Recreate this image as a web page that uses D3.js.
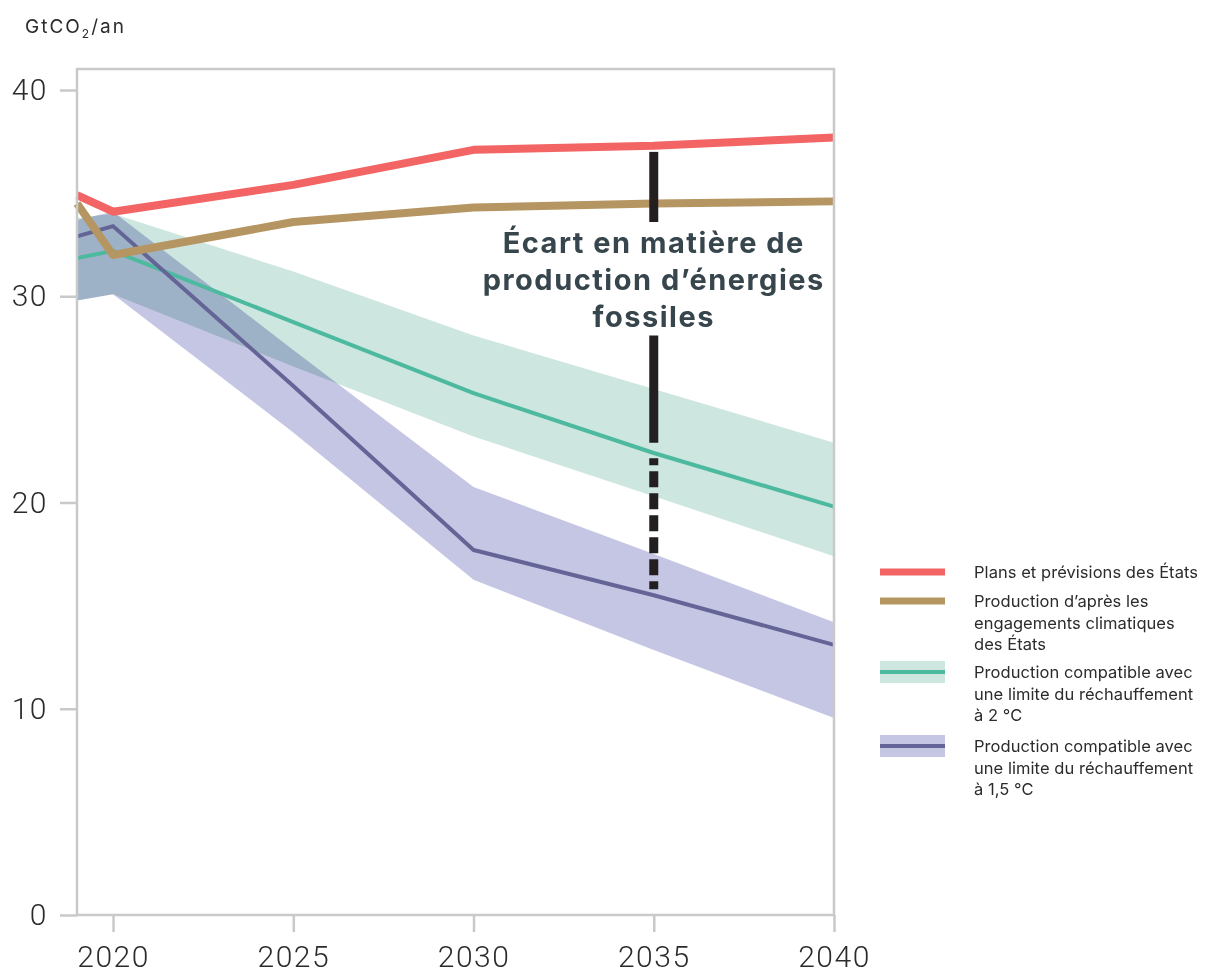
<!DOCTYPE html>
<html>
<head>
<meta charset="utf-8">
<script src="https://cdn.jsdelivr.net/npm/d3@7"></script>
<style>
  body { margin: 0; background: #fff; }
  .tick text { font-family: Roboto, sans-serif; font-weight: 300; fill: #2b2b2b; letter-spacing: 1.5px; }
  .band { mix-blend-mode: multiply; }
</style>
</head>
<body>
<div id="chart-container"></div>
<script>
const years = [2019, 2020, 2025, 2030, 2035, 2040];
const plans = [34.9, 34.1, 35.4, 37.1, 37.3, 37.7];
const pledges = [34.5, 32.0, 33.6, 34.3, 34.5, 34.6];
const deg2 = [31.85, 32.2, 28.75, 25.3, 22.4, 19.8];
const deg2Low = [29.8, 30.1, 26.6, 23.2, 20.3, 17.4];
const deg2High = [33.8, 34.0, 31.2, 28.1, 25.5, 22.9];
const deg15 = [32.9, 33.4, 25.65, 17.7, 15.5, 13.1];
const deg15Low = [29.8, 30.1, 23.4, 16.25, 12.85, 9.55];
const deg15High = [33.7, 34.1, 27.4, 20.75, 17.5, 14.2];
const yTicks = [0, 10, 20, 30, 40];
const xTicks = [2020, 2025, 2030, 2035, 2040];
const gapYear = 2035;
const gapSolid = [[37.0, 33.6], [28.1, 22.9]];
const gapDashed = [22.15, 15.8];
const gapLabel = ["Écart en matière de", "production d’énergies", "fossiles"];
const legendLabels = [
    ["Plans et prévisions des États"],
    ["Production d’après les", "engagements climatiques", "des États"],
    ["Production compatible avec", "une limite du réchauffement", "à 2 °C"],
    ["Production compatible avec", "une limite du réchauffement", "à 1,5 °C"]
];

const colors = {
    plans: "#f26564", pledges: "#b59662",
    deg2: "#4dba9f", deg2Band: "#cde6df",
    deg15: "#646496", deg15Band: "#c5c6e4",
    frame: "#c9c9c9", gap: "#231f20", gapText: "#37454d"
};

const svgWidth = 1210,
    svgHeight = 974,
    margin = { top: 69, right: 376, bottom: 59, left: 77 },
    width = svgWidth - margin.left - margin.right,
    height = svgHeight - margin.top - margin.bottom;

const root = d3.select("#chart-container").append("svg")
    .attr("width", svgWidth)
    .attr("height", svgHeight);

// unit label
const unit = root.append("text")
    .attr("x", 25).attr("y", 33)
    .style("font-family", "Inter, sans-serif")
    .style("font-size", "19px")
    .style("letter-spacing", "2px")
    .style("fill", "#2b2b2b");
unit.append("tspan").text("GtCO");
unit.append("tspan").text("2").style("font-size", "12px").attr("dy", 5);
unit.append("tspan").text("/an").attr("dy", -5);

const svg = root.append("g")
    .attr("transform", `translate(${margin.left},${margin.top})`);

const x = d3.scaleLinear().domain([2019, 2040]).range([0, width]);
const y = d3.scaleLinear().domain([0, 40]).range([height, 21]);

const rows = years.map((yr, i) => ({
    year: yr, plans: plans[i], pledges: pledges[i],
    deg2: deg2[i], deg2Low: deg2Low[i], deg2High: deg2High[i],
    deg15: deg15[i], deg15Low: deg15Low[i], deg15High: deg15High[i]
}));

// bands
const band = (lo, hi) => d3.area()
    .x(d => x(d.year)).y0(d => y(d[lo])).y1(d => y(d[hi]));
svg.append("path").datum(rows).attr("class", "band")
    .attr("fill", colors.deg2Band).attr("d", band("deg2Low", "deg2High"));
svg.append("path").datum(rows).attr("class", "band")
    .attr("fill", colors.deg15Band).attr("d", band("deg15Low", "deg15High"));

// lines
const line = key => d3.line().x(d => x(d.year)).y(d => y(d[key]));
[["deg2", 4], ["deg15", 4], ["plans", 8], ["pledges", 8]].forEach(([k, w]) => {
    svg.append("path").datum(rows)
        .attr("fill", "none")
        .attr("stroke", colors[k])
        .attr("stroke-width", w)
        .attr("stroke-linejoin", "round")
        .attr("d", line(k));
});

// gap marker
gapSolid.forEach(s => {
    svg.append("line")
        .attr("x1", x(gapYear)).attr("x2", x(gapYear))
        .attr("y1", y(s[0])).attr("y2", y(s[1]))
        .attr("stroke", colors.gap).attr("stroke-width", 9);
});
svg.append("line")
    .attr("x1", x(gapYear)).attr("x2", x(gapYear))
    .attr("y1", y(gapDashed[0])).attr("y2", y(gapDashed[1]))
    .attr("stroke", colors.gap).attr("stroke-width", 9)
    .attr("stroke-dasharray", "16,6")
    .attr("stroke-dashoffset", 9);

svg.append("text")
    .attr("x", x(gapYear)).attr("y", 184)
    .attr("text-anchor", "middle")
    .style("font-family", "Inter, sans-serif")
    .style("font-weight", 700)
    .style("font-size", "29px")
    .style("letter-spacing", "1.5px")
    .style("fill", colors.gapText)
    .selectAll("tspan").data(gapLabel).join("tspan")
    .attr("x", x(gapYear))
    .attr("dy", (d, i) => i ? 37 : 0)
    .text(d => d);

// frame
svg.append("rect")
    .attr("x", 0).attr("y", 0)
    .attr("width", width).attr("height", height)
    .attr("fill", "none")
    .attr("stroke", colors.frame)
    .attr("stroke-width", 2.5);

// axes
const yAxis = svg.append("g")
    .call(d3.axisLeft(y).tickValues(yTicks).tickSize(17).tickPadding(12));
const xAxis = svg.append("g")
    .attr("transform", `translate(0,${height})`)
    .call(d3.axisBottom(x).tickValues(xTicks).tickSize(17).tickPadding(14).tickFormat(d3.format("d")));
[yAxis, xAxis].forEach(a => {
    a.select(".domain").remove();
    a.selectAll(".tick line").attr("stroke", colors.frame).attr("stroke-width", 2.5);
    a.selectAll(".tick text").style("font-size", "30px");
});

// legend
const legend = root.append("g").attr("transform", "translate(880,0)");
const items = [
    { key: "plans", y: 572, w: 7, band: null },
    { key: "pledges", y: 601, w: 7, band: null },
    { key: "deg2", y: 672, w: 4, band: "deg2Band" },
    { key: "deg15", y: 746, w: 4, band: "deg15Band" }
];
const legendTexts = [];
items.forEach((it, i) => {
    if (it.band) {
        legend.append("rect")
            .attr("x", 0).attr("y", it.y - 11)
            .attr("width", 65).attr("height", 22)
            .attr("fill", colors[it.band]);
    }
    legend.append("rect")
        .attr("x", 0).attr("y", it.y - it.w / 2)
        .attr("width", 65).attr("height", it.w)
        .attr("fill", colors[it.key]);
    const t = legend.append("text")
        .attr("x", 94).attr("y", it.y + 6)
        .style("font-family", "Inter, sans-serif")
        .style("font-size", "16.5px")
        .style("fill", "#2b2b2b");
    t.selectAll("tspan").data(legendLabels[i]).join("tspan")
        .attr("x", 94)
        .attr("dy", (d, j) => j ? 21.5 : 0)
        .text(d => d);
    legendTexts.push(t);
});
// widen the legend type a little so the first label spans ~224px as in the original
const w0 = legendTexts[0].node().getComputedTextLength();
const n0 = legendLabels[0][0].length;
const ls = Math.max(0, Math.min(1, (224 - w0) / n0));
legendTexts.forEach(t => t.style("letter-spacing", ls + "px"));
</script>
</body>
</html>
